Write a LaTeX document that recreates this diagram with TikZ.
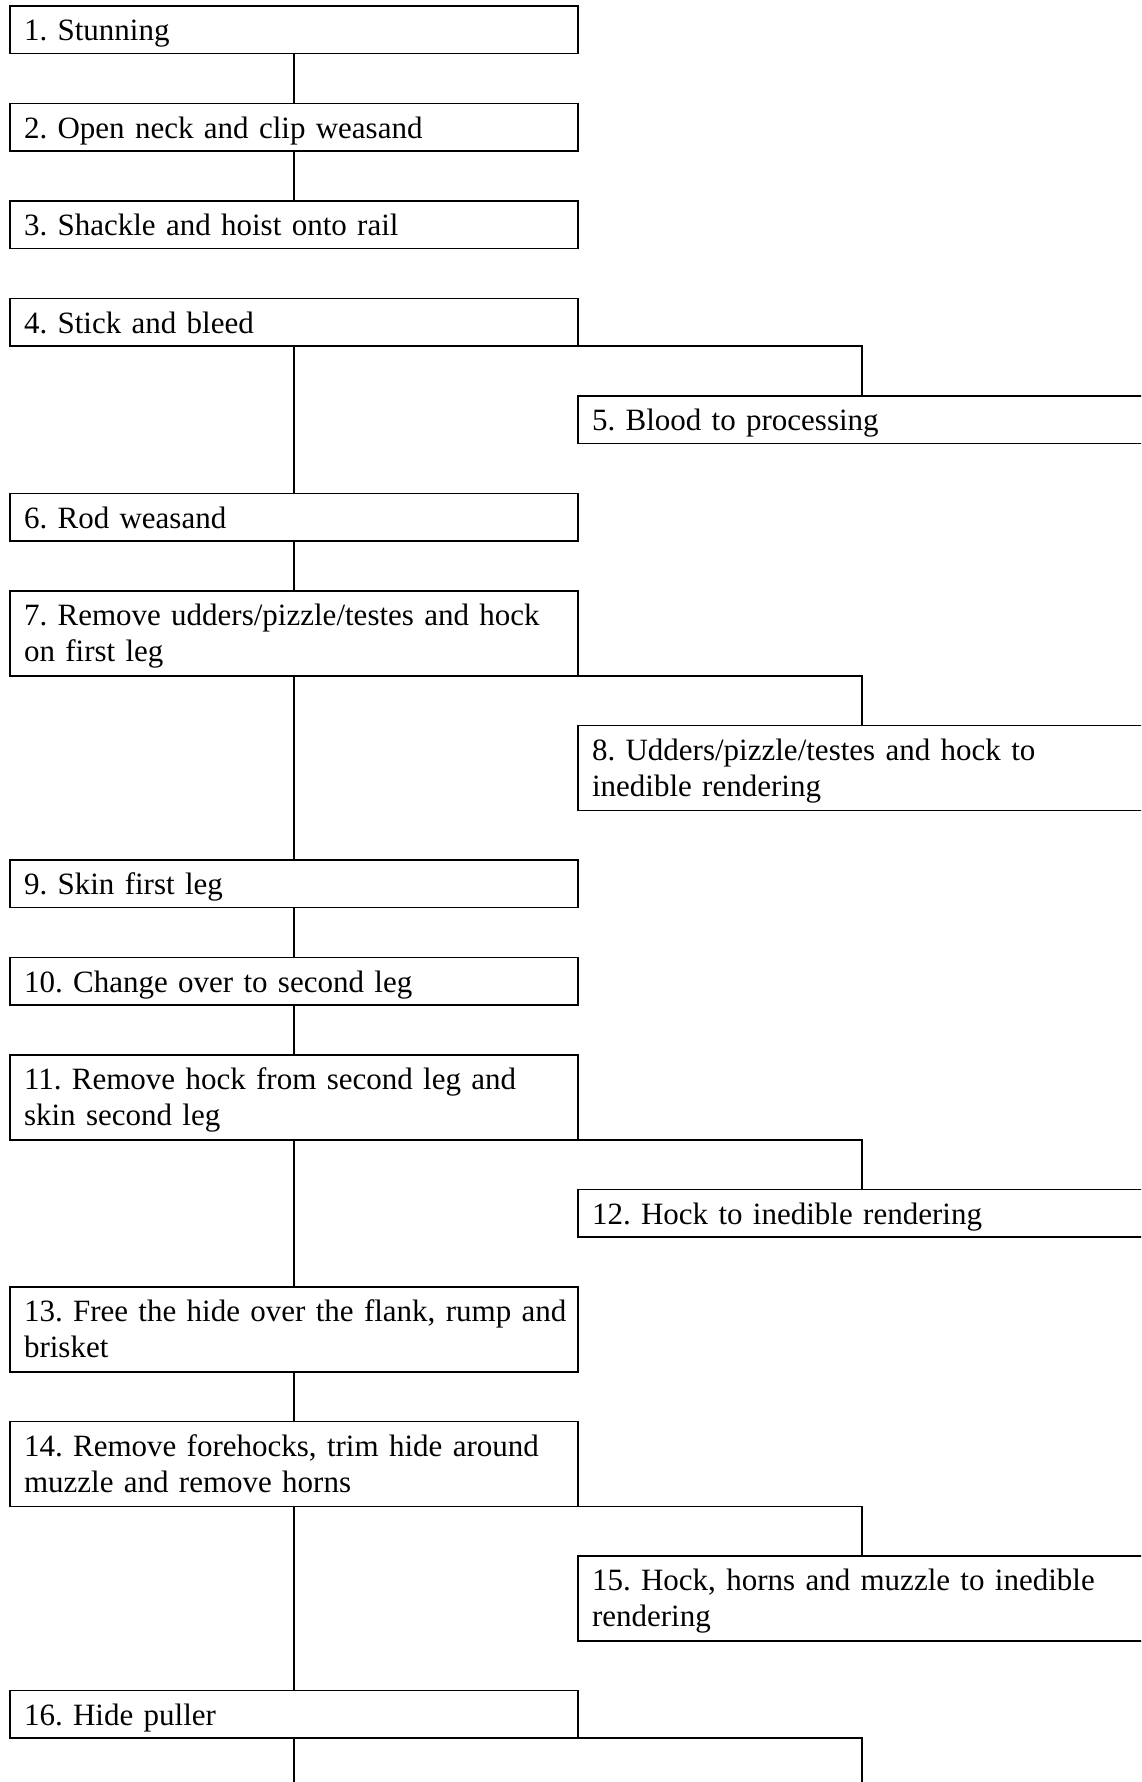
\documentclass[tikz,border=0pt]{standalone}
\usepackage{fontspec}
\setmainfont[WordSpace=0.92]{Liberation Serif}
\frenchspacing
\begin{document}
\begin{tikzpicture}[x=1pt,y=-1pt,
  stepbox/.style={draw, line width=1.6pt, anchor=north west, outer sep=0pt,
    inner xsep=14pt, inner ysep=0pt, text width=540pt, align=left,
    font=\fontsize{31}{36}\selectfont\frenchspacing, text height=27pt},
  onel/.style={stepbox, text depth=5pt, minimum height=47.5pt},
  twol/.style={stepbox, text depth=42.5pt, minimum height=85pt},
  link/.style={line width=1.2pt},
  branch/.style={line width=1.6pt}]
\useasboundingbox (0,0) rectangle (1141,1782);
\fill[white] (0,0) rectangle (1141,1782);
\clip (0,0) rectangle (1141,1782);
% left column
\node[onel] (b1) at (10,6) {1. Stunning};
\node[onel] (b2) at (10,103.5) {2. Open neck and clip weasand};
\node[onel] (b3) at (10,201) {3. Shackle and hoist onto rail};
\node[onel] (b4) at (10,298.5) {4. Stick and bleed};
\node[onel] (b6) at (10,493.5) {6. Rod weasand};
\node[twol] (b7) at (10,591) {\mbox{7. Remove udders/pizzle/testes and hock}\\on first leg};
\node[onel] (b9) at (10,860) {9. Skin first leg};
\node[onel] (b10) at (10,957.5) {10. Change over to second leg};
\node[twol] (b11) at (10,1055) {\mbox{11. Remove hock from second leg and}\\skin second leg};
\node[twol] (b13) at (10,1287) {\mbox{13. Free the hide over the flank, rump and}\\brisket};
\node[twol] (b14) at (10,1421.5) {\mbox{14. Remove forehocks, trim hide around}\\muzzle and remove horns};
\node[onel] (b16) at (10,1690.5) {16. Hide puller};
% right column
\node[onel] (b5) at (578,396) {5. Blood to processing};
\node[twol] (b8) at (578,725.5) {\mbox{8. Udders/pizzle/testes and hock to}\\inedible rendering};
\node[onel] (b12) at (578,1189.5) {12. Hock to inedible rendering};
\node[twol] (b15) at (578,1556) {\mbox{15. Hock, horns and muzzle to inedible}\\rendering};
% continuation points below the page
\coordinate (cmain) at (294,1800);
\coordinate (cside) at (862,1800);
% main line
\draw[link] (b1.south) -- (b2.north);
\draw[link] (b2.south) -- (b3.north);
\draw[link] (b4.south) -- (b6.north);
\draw[link] (b6.south) -- (b7.north);
\draw[link] (b7.south) -- (b9.north);
\draw[link] (b9.south) -- (b10.north);
\draw[link] (b10.south) -- (b11.north);
\draw[link] (b11.south) -- (b13.north);
\draw[link] (b13.south) -- (b14.north);
\draw[link] (b14.south) -- (b16.north);
\draw[link] (b16.south) -- (cmain);
% branches
\draw[branch] (b4.south east) -- (b4.south east -| b5.north) -- (b5.north);
\draw[branch] (b7.south east) -- (b7.south east -| b8.north) -- (b8.north);
\draw[branch] (b11.south east) -- (b11.south east -| b12.north) -- (b12.north);
\draw[branch] (b14.south east) -- (b14.south east -| b15.north) -- (b15.north);
\draw[branch] (b16.south east) -- (b16.south east -| cside) -- (cside);
\end{tikzpicture}
\end{document}
